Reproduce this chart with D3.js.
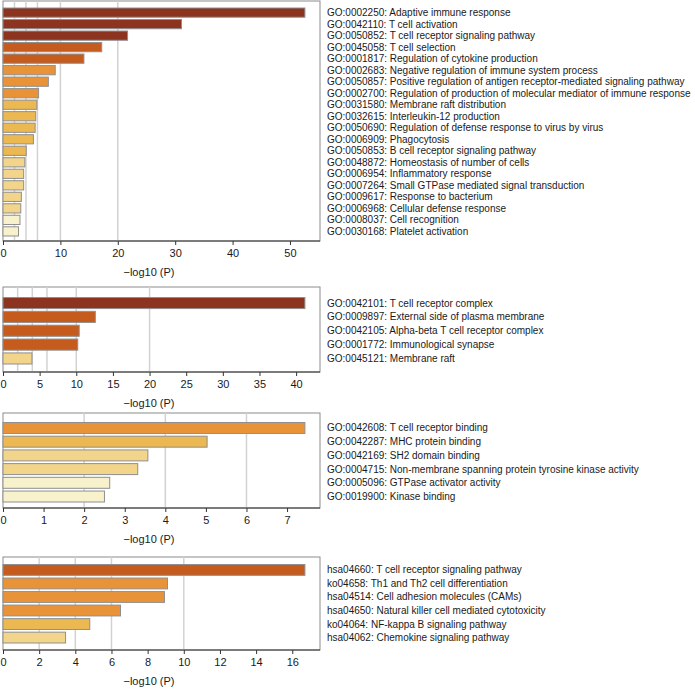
<html lang="en">
<head>
<meta charset="UTF-8">
<title>GO / KEGG enrichment</title>
<style>
  body { margin: 0; background: #fff; }
  svg { display: block; font-family: "Liberation Sans", Arial, Helvetica, sans-serif; }
</style>
</head>
<body>
<svg id="chart" width="695" height="691"></svg>
<script src="https://d3js.org/d3.v7.min.js"></script>
<script>
// --- data ---
const bpTerms = [
  "GO:0002250: Adaptive immune response",
  "GO:0042110: T cell activation",
  "GO:0050852: T cell receptor signaling pathway",
  "GO:0045058: T cell selection",
  "GO:0001817: Regulation of cytokine production",
  "GO:0002683: Negative regulation of immune system process",
  "GO:0050857: Positive regulation of antigen receptor-mediated signaling pathway",
  "GO:0002700: Regulation of production of molecular mediator of immune response",
  "GO:0031580: Membrane raft distribution",
  "GO:0032615: Interleukin-12 production",
  "GO:0050690: Regulation of defense response to virus by virus",
  "GO:0006909: Phagocytosis",
  "GO:0050853: B cell receptor signaling pathway",
  "GO:0048872: Homeostasis of number of cells",
  "GO:0006954: Inflammatory response",
  "GO:0007264: Small GTPase mediated signal transduction",
  "GO:0009617: Response to bacterium",
  "GO:0006968: Cellular defense response",
  "GO:0008037: Cell recognition",
  "GO:0030168: Platelet activation"
];
const bpValues = [52.6, 31.1, 21.7, 17.2, 14.1, 9.1, 7.9, 6.2, 5.9, 5.7, 5.6, 5.3, 4.05, 3.8, 3.6, 3.6, 3.2, 3.1, 2.96, 2.7];
const bpTicks = [0, 10, 20, 30, 40, 50];

const ccTerms = [
  "GO:0042101: T cell receptor complex",
  "GO:0009897: External side of plasma membrane",
  "GO:0042105: Alpha-beta T cell receptor complex",
  "GO:0001772: Immunological synapse",
  "GO:0045121: Membrane raft"
];
const ccValues = [41.2, 12.6, 10.4, 10.2, 3.95];
const ccTicks = [0, 5, 10, 15, 20, 25, 30, 35, 40];

const mfTerms = [
  "GO:0042608: T cell receptor binding",
  "GO:0042287: MHC protein binding",
  "GO:0042169: SH2 domain binding",
  "GO:0004715: Non-membrane spanning protein tyrosine kinase activity",
  "GO:0005096: GTPase activator activity",
  "GO:0019900: Kinase binding"
];
const mfValues = [7.44, 5.03, 3.57, 3.32, 2.63, 2.5];
const mfTicks = [0, 1, 2, 3, 4, 5, 6, 7];

const keggTerms = [
  "hsa04660: T cell receptor signaling pathway",
  "ko04658: Th1 and Th2 cell differentiation",
  "hsa04514: Cell adhesion molecules (CAMs)",
  "hsa04650: Natural killer cell mediated cytotoxicity",
  "ko04064: NF-kappa B signaling pathway",
  "hsa04062: Chemokine signaling pathway"
];
const keggValues = [16.7, 9.1, 8.93, 6.5, 4.8, 3.46];
const keggTicks = [0, 2, 4, 6, 8, 10, 12, 14, 16];

// thresholds of -log10(P) used for grid lines and bar colour bins
const gridValues = [2, 4, 6, 10, 20];
const binEdges = [3, 4, 6, 10, 20];
const binColors = ["#f8f2cc", "#f2d58b", "#ecb851", "#e99338", "#c65b1e", "#8d3421"];

// --- layout ---
const svg = d3.select("#chart");
const x0 = 3, x1 = 320, labelX = 327;
const color = d3.scaleThreshold().domain(binEdges).range(binColors);

const panels = [
  { terms: bpTerms, values: bpValues, ticks: bpTicks, top: 1, bottom: 241, band: [8, 236] },
  { terms: ccTerms, values: ccValues, ticks: ccTicks, top: 287, bottom: 372, band: [297.5, 364] },
  { terms: mfTerms, values: mfValues, ticks: mfTicks, top: 413, bottom: 508, band: [422.5, 502] },
  { terms: keggTerms, values: keggValues, ticks: keggTicks, top: 557, bottom: 650, band: [564.5, 643] }
];

panels.forEach(p => {
  const g = svg.append("g");
  const x = d3.scaleLinear().domain([0, d3.max(p.values) * 1.05]).range([x0, x1]);
  const y = d3.scaleBand().domain(p.terms).range(p.band).paddingInner(0.2).paddingOuter(0);

  // frame
  g.append("rect")
    .attr("x", x0).attr("y", p.top)
    .attr("width", x1 - x0).attr("height", p.bottom - p.top)
    .attr("fill", "none").attr("stroke", "#8c8c8c").attr("stroke-width", 1);

  // threshold grid lines
  g.selectAll(".grid")
    .data(gridValues.filter(v => v < x.domain()[1]))
    .join("line")
    .attr("x1", d => x(d)).attr("x2", d => x(d))
    .attr("y1", p.top).attr("y2", p.bottom)
    .attr("stroke", "#d2d2d2").attr("stroke-width", 1.5);

  // bars
  g.selectAll(".bar")
    .data(p.values)
    .join("rect")
    .attr("x", x(0))
    .attr("y", (d, i) => y(p.terms[i]))
    .attr("width", d => x(d) - x(0))
    .attr("height", y.bandwidth())
    .attr("fill", d => color(d))
    .attr("stroke", "#8f8f8f").attr("stroke-width", 1);

  // term labels
  g.selectAll(".lab")
    .data(p.terms)
    .join("text")
    .attr("x", labelX)
    .attr("y", d => y(d) + y.bandwidth() / 2)
    .attr("dy", "0.35em")
    .attr("font-size", 10)
    .attr("fill", "#1a1a1a")
    .text(d => d);

  // x axis
  const ax = g.append("g")
    .attr("transform", `translate(0,${p.bottom})`)
    .call(d3.axisBottom(x).tickValues(p.ticks).tickSize(4).tickPadding(4).tickFormat(d3.format("d")));
  ax.select(".domain").attr("stroke", "#333").attr("d", `M${x0},0H${x1}`);
  ax.selectAll(".tick line").attr("stroke", "#333");
  ax.selectAll(".tick text").attr("font-size", 11).attr("fill", "#1a1a1a").attr("font-family", null);

  g.append("text")
    .attr("x", 149).attr("y", p.bottom + 35)
    .attr("text-anchor", "middle")
    .attr("font-size", 11).attr("fill", "#1a1a1a")
    .text("\u2212log10 (P)");
});
</script>
</body>
</html>
